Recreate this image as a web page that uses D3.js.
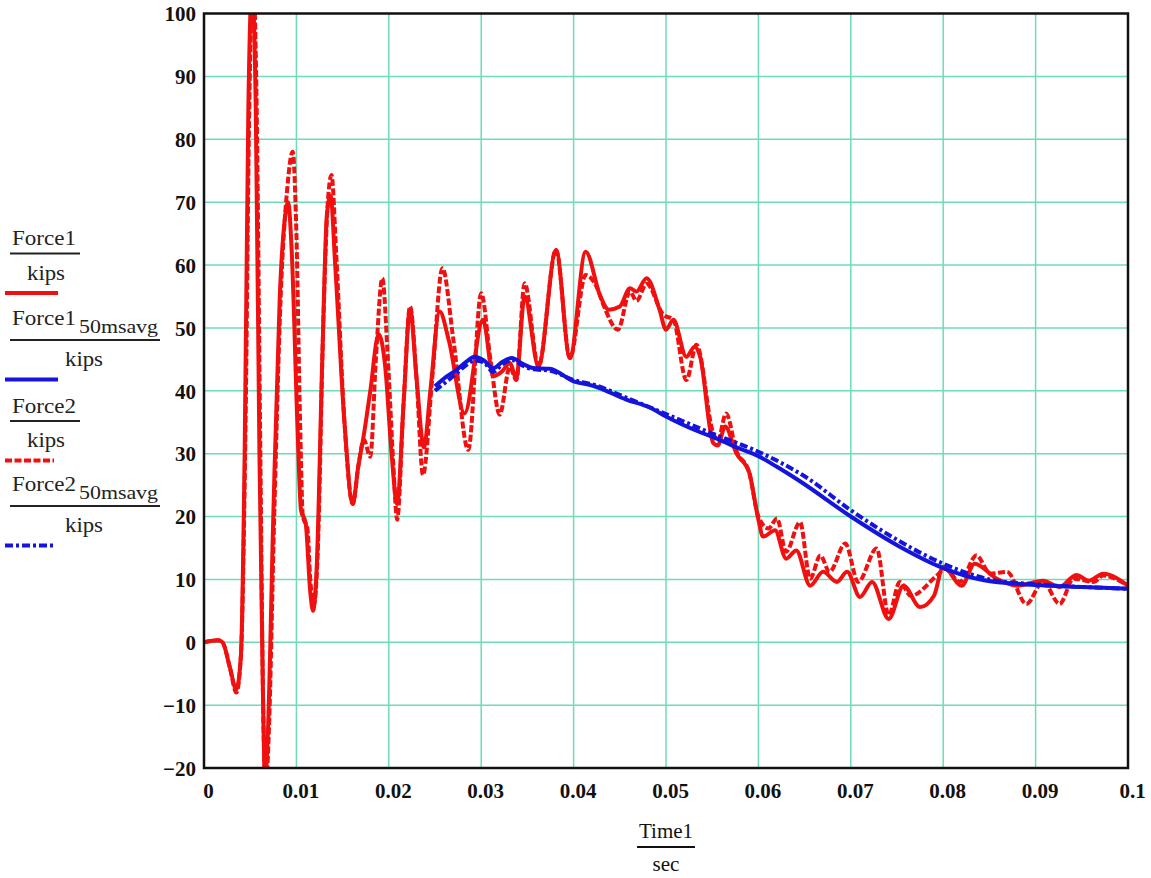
<!DOCTYPE html>
<html>
<head>
<meta charset="utf-8">
<script src="https://cdn.jsdelivr.net/npm/d3@7/dist/d3.min.js"></script>
<style>
  html, body { margin: 0; padding: 0; background: #ffffff; }
  svg { display: block; }
</style>
</head>
<body>
<svg id="chart" width="1151" height="878"></svg>
<script>
// ---------------- DATA ----------------
const xTicks = [0, 0.01, 0.02, 0.03, 0.04, 0.05, 0.06, 0.07, 0.08, 0.09, 0.1];
const xTickLabels = ["0", "0.01", "0.02", "0.03", "0.04", "0.05", "0.06", "0.07", "0.08", "0.09", "0.1"];
const yTicks = [-20, -10, 0, 10, 20, 30, 40, 50, 60, 70, 80, 90, 100];
const yTickLabels = ["\u221220", "\u221210", "0", "10", "20", "30", "40", "50", "60", "70", "80", "90", "100"];

// Force1 / kips (red solid)
const force1Time = [0, 0.0015, 0.002, 0.0028, 0.0035, 0.004, 0.0044, 0.0048, 0.0052, 0.0056, 0.006, 0.0064, 0.0066, 0.0069, 0.0075, 0.0082, 0.0088, 0.0091, 0.0095, 0.0101, 0.0105, 0.011, 0.0115, 0.0118, 0.0122, 0.0128, 0.0133, 0.0137, 0.0142, 0.0152, 0.0161, 0.0167, 0.0173, 0.018, 0.0189, 0.0196, 0.0203, 0.0209, 0.0216, 0.0223, 0.023, 0.0238, 0.0245, 0.0255, 0.0265, 0.0282, 0.0302, 0.0313, 0.0322, 0.0331, 0.0338, 0.0347, 0.0362, 0.0381, 0.0396, 0.0413, 0.0429, 0.0438, 0.045, 0.0461, 0.0468, 0.0479, 0.0493, 0.05, 0.0508, 0.0522, 0.0531, 0.0537, 0.0551, 0.0556, 0.0564, 0.0576, 0.059, 0.06, 0.0605, 0.0618, 0.063, 0.0641, 0.0656, 0.067, 0.0685, 0.0696, 0.071, 0.0723, 0.0741, 0.0757, 0.0775, 0.079, 0.08, 0.082, 0.0834, 0.0858, 0.088, 0.0908, 0.0926, 0.0944, 0.0958, 0.0973, 0.1];
const force1Values = [0, 0.3, 0, -4, -7.5, -2, 30, 85, 104, 85, 30, -10, -22, -15, 20, 55, 68, 70, 62, 35, 21, 19, 8, 5, 12, 45, 68, 71, 60, 35, 22, 28, 33, 40, 49, 44, 30, 22, 38, 53, 42, 31, 40, 52.6, 48, 36.4, 51.3, 42.3, 43, 44.4, 42, 55, 43.9, 62.4, 45.2, 62.1, 55, 52.9, 53.4, 56.3, 55.8, 57.9, 52.9, 49.7, 51.3, 45.4, 47, 45.4, 31.7, 31.3, 34.3, 30.1, 27, 19.5, 16.8, 17.8, 13.3, 14.6, 9.0, 11.2, 9.6, 11.2, 7.2, 9.6, 3.7, 9.0, 5.6, 7.4, 12, 9, 12.5, 10.1, 9, 9.8, 8.8, 10.7, 9.8, 10.9, 9.0];

// Force1 50msavg / kips (blue solid)
const avg1Time = [0.025, 0.0262, 0.0273, 0.0283, 0.0293, 0.0303, 0.0313, 0.0323, 0.0333, 0.0345, 0.0356, 0.0374, 0.04, 0.0421, 0.0457, 0.0483, 0.05, 0.0537, 0.0555, 0.0573, 0.06, 0.062, 0.0645, 0.07, 0.0753, 0.08, 0.0843, 0.09, 0.095, 0.1];
const avg1Values = [40.7, 42.2, 43.3, 44.5, 45.4, 44.8, 43.6, 44.6, 45.2, 44.3, 43.6, 43.5, 41.5, 40.8, 38.6, 37.3, 35.9, 33.4, 32.4, 31.2, 29.6, 27.9, 25.6, 20.0, 15.2, 11.8, 9.9, 9.1, 8.8, 8.5];

// Force2 / kips (red dashed)
const force2Time = [0, 0.0015, 0.002, 0.0028, 0.0035, 0.004, 0.0045, 0.0049, 0.0053, 0.0057, 0.0061, 0.0064, 0.0067, 0.007, 0.0076, 0.0083, 0.009, 0.0096, 0.01, 0.0104, 0.0107, 0.0112, 0.0115, 0.0119, 0.0123, 0.0129, 0.0134, 0.0138, 0.0143, 0.0152, 0.0161, 0.0167, 0.0173, 0.018, 0.0186, 0.0193, 0.0199, 0.0205, 0.0209, 0.0216, 0.0223, 0.023, 0.0237, 0.0247, 0.0258, 0.027, 0.0286, 0.03, 0.031, 0.032, 0.0331, 0.0338, 0.0347, 0.0362, 0.0381, 0.0396, 0.0413, 0.0425, 0.0433, 0.0448, 0.0461, 0.0468, 0.0479, 0.0497, 0.0508, 0.0522, 0.0533, 0.0551, 0.0556, 0.0565, 0.0576, 0.059, 0.06, 0.0611, 0.062, 0.063, 0.0645, 0.0656, 0.0667, 0.0677, 0.0694, 0.0708, 0.0728, 0.0741, 0.0753, 0.0765, 0.0793, 0.0802, 0.0818, 0.0836, 0.0851, 0.0869, 0.089, 0.0908, 0.0926, 0.0941, 0.0963, 0.0973, 0.1];
const force2Values = [0, 0.3, 0, -4, -8, -2, 35, 85, 106, 85, 30, -10, -23, -15, 20, 55, 72, 78, 65, 35, 20, 18, 10, 6, 14, 50, 70, 74.3, 62, 35, 22, 28, 32.2, 29.5, 45, 57.9, 45, 28, 19.5, 38, 53.4, 42, 26.6, 42, 59.5, 48, 30.6, 55.5, 45, 36.2, 43.8, 41.7, 57.1, 43.9, 62.4, 45.2, 58.4, 56.5, 53.4, 49.7, 55.8, 54.3, 57, 52.1, 51.3, 41.7, 47.3, 33.3, 32, 36.4, 30.5, 27, 20, 18.1, 19.7, 14.4, 19.1, 10.1, 13.8, 11.2, 15.7, 9.6, 14.9, 4.3, 9.6, 7.4, 10.6, 11.7, 9.6, 13.8, 10.9, 11.2, 6.1, 9.6, 6.1, 10.1, 9.6, 10.6, 9.0];

// Force2 50msavg / kips (blue dash-dot)
const avg2Time = [0.025, 0.0262, 0.0273, 0.0283, 0.0293, 0.0303, 0.0313, 0.0323, 0.0333, 0.0345, 0.0356, 0.0374, 0.04, 0.0421, 0.0457, 0.05, 0.055, 0.06, 0.0625, 0.065, 0.07, 0.075, 0.08, 0.085, 0.09, 0.095, 0.1];
const avg2Values = [40.0, 41.4, 42.7, 44.0, 44.8, 44.5, 43.0, 44.2, 44.9, 44.0, 43.4, 43.2, 41.7, 41.0, 38.9, 36.3, 33.2, 30.3, 28.5, 26.4, 21.0, 16.3, 12.5, 10.0, 9.2, 8.8, 8.5];

// ---------------- LAYOUT ----------------
const svg = d3.select("#chart");
const plotLeft = 204, plotRight = 1128, plotTop = 13.5, plotBottom = 768;
const x = d3.scaleLinear().domain([0, 0.1]).range([plotLeft, plotRight]);
const y = d3.scaleLinear().domain([-20, 100]).range([plotBottom, plotTop]);

svg.append("rect").attr("width", 1151).attr("height", 878).attr("fill", "#ffffff");

svg.append("defs").append("clipPath").attr("id", "plotClip")
  .append("rect").attr("x", plotLeft).attr("y", plotTop)
  .attr("width", plotRight - plotLeft).attr("height", plotBottom - plotTop);

// grid
const gridColor = "#6edcb6";
svg.append("g").selectAll("line").data(xTicks.slice(1, -1)).join("line")
  .attr("x1", d => x(d)).attr("x2", d => x(d)).attr("y1", plotTop).attr("y2", plotBottom)
  .attr("stroke", gridColor).attr("stroke-width", 1.5);
svg.append("g").selectAll("line").data(yTicks.slice(1, -1)).join("line")
  .attr("x1", plotLeft).attr("x2", plotRight).attr("y1", d => y(d)).attr("y2", d => y(d))
  .attr("stroke", gridColor).attr("stroke-width", 1.5);

// axes (labels only)
const tickFont = "'Liberation Serif', 'Times New Roman', serif";
const yAxis = svg.append("g").attr("transform", `translate(${plotLeft},0)`)
  .call(d3.axisLeft(y).tickValues(yTicks).tickSize(0).tickPadding(8)
    .tickFormat((d, i) => yTickLabels[i]));
yAxis.select(".domain").remove();
yAxis.selectAll("text").attr("font-family", tickFont).attr("font-size", 21)
  .attr("font-weight", "bold").attr("fill", "#111").attr("dy", "0.35em");

const xAxis = svg.append("g").attr("transform", `translate(0,${plotBottom})`)
  .call(d3.axisBottom(x).tickValues(xTicks).tickSize(0).tickPadding(15)
    .tickFormat((d, i) => xTickLabels[i]));
xAxis.select(".domain").remove();
xAxis.selectAll("text").attr("font-family", tickFont).attr("font-size", 21)
  .attr("font-weight", "bold").attr("fill", "#111").attr("dx", 4);

// series
function series(times, values) { return times.map((t, i) => [t, values[i]]); }
const lineGen = d3.line().x(d => x(d[0])).y(d => y(d[1])).curve(d3.curveMonotoneX);
const plot = svg.append("g").attr("clip-path", "url(#plotClip)");

const RED = "#f01010", BLUE = "#1414dc";
const LW = 4;
plot.append("path").datum(series(force2Time, force2Values)).attr("d", lineGen)
  .attr("fill", "none").attr("stroke", RED).attr("stroke-width", LW)
  .attr("stroke-dasharray", "7,2.5").attr("stroke-linejoin", "round");
plot.append("path").datum(series(force1Time, force1Values)).attr("d", lineGen)
  .attr("fill", "none").attr("stroke", RED).attr("stroke-width", LW).attr("stroke-linejoin", "round");
plot.append("path").datum(series(avg2Time, avg2Values)).attr("d", lineGen)
  .attr("fill", "none").attr("stroke", BLUE).attr("stroke-width", LW)
  .attr("stroke-dasharray", "8,3,3,3");
plot.append("path").datum(series(avg1Time, avg1Values)).attr("d", lineGen)
  .attr("fill", "none").attr("stroke", BLUE).attr("stroke-width", LW);

// frame
svg.append("rect").attr("x", plotLeft).attr("y", plotTop)
  .attr("width", plotRight - plotLeft).attr("height", plotBottom - plotTop)
  .attr("fill", "none").attr("stroke", "#111").attr("stroke-width", 2.5);

// x-axis title
const lblFont = "'Liberation Serif', 'Times New Roman', serif";
const xt = svg.append("g");
xt.append("text").attr("x", 666).attr("y", 838).attr("text-anchor", "middle")
  .attr("font-family", lblFont).attr("font-size", 21).attr("fill", "#111").text("Time1");
xt.append("line").attr("x1", 637).attr("x2", 695).attr("y1", 847).attr("y2", 847)
  .attr("stroke", "#111").attr("stroke-width", 2);
xt.append("text").attr("x", 666).attr("y", 871).attr("text-anchor", "middle")
  .attr("font-family", lblFont).attr("font-size", 21).attr("fill", "#111").text("sec");

// legend
const legendNames = ["Force1", "Force1", "Force2", "Force2"];
const legendSubs = ["", "50msavg", "", "50msavg"];
const legendColors = [RED, BLUE, RED, BLUE];
const legendDash = [null, null, "7,2.5", "8,3,3,3"];
const legendRuleY = [253.5, 340, 421, 506];
const lg = svg.append("g");
legendNames.forEach((name, i) => {
  const ly = legendRuleY[i];
  const hasSub = legendSubs[i] !== "";
  const g = lg.append("g");
  g.append("text").attr("x", 12).attr("y", hasSub ? ly - 15 : ly - 8.5)
    .attr("font-family", lblFont).attr("font-size", 21).attr("fill", "#222")
    .attr("textLength", 64).attr("lengthAdjust", "spacingAndGlyphs").text(name);
  if (hasSub) {
    g.append("text").attr("x", 79).attr("y", ly - 7.5)
      .attr("font-family", lblFont).attr("font-size", 18).attr("fill", "#222")
      .attr("textLength", 79).attr("lengthAdjust", "spacingAndGlyphs").text(legendSubs[i]);
  }
  const ruleEnd = hasSub ? 160 : 80;
  g.append("line").attr("x1", 10).attr("x2", ruleEnd).attr("y1", ly).attr("y2", ly)
    .attr("stroke", "#222").attr("stroke-width", 2);
  const kx = hasSub ? 65 : 27;
  g.append("text").attr("x", kx).attr("y", ly + 26)
    .attr("font-family", lblFont).attr("font-size", 21).attr("fill", "#222")
    .attr("textLength", 38).attr("lengthAdjust", "spacingAndGlyphs").text("kips");
  const s = g.append("line").attr("x1", 5).attr("x2", i >= 2 ? 54 : 58)
    .attr("y1", ly + 39.5).attr("y2", ly + 39.5)
    .attr("stroke", legendColors[i]).attr("stroke-width", LW);
  if (legendDash[i]) s.attr("stroke-dasharray", legendDash[i]);
});
</script>
</body>
</html>
